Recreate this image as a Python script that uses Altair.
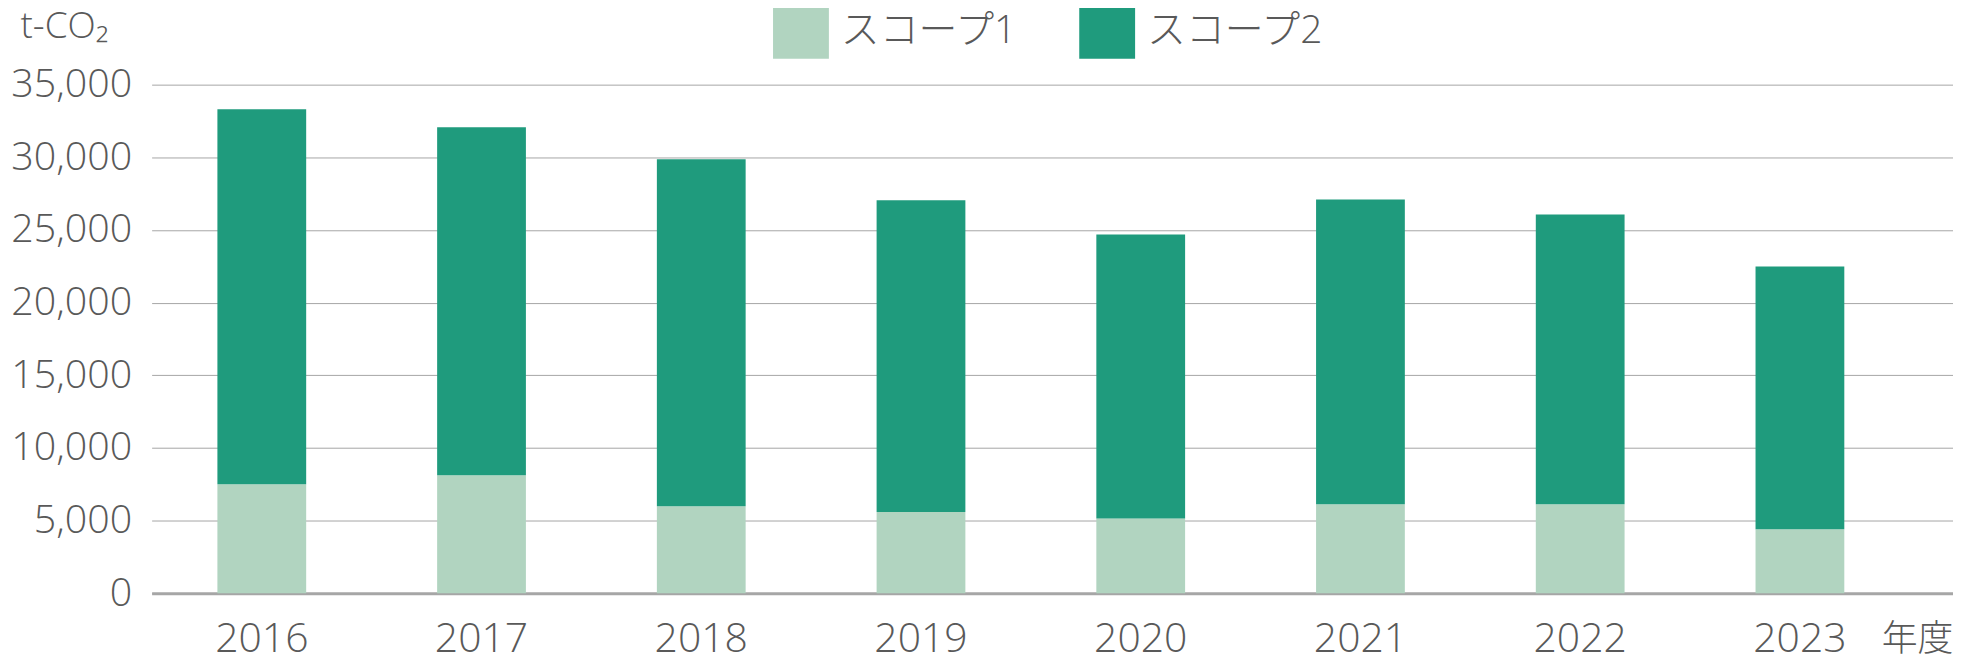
import altair as alt
import pandas as pd

years = ["2016", "2017", "2018", "2019", "2020", "2021", "2022", "2023"]
scope1 = [7500, 8130, 6000, 5600, 5150, 6130, 6130, 4410]
scope2 = [25800, 23940, 23870, 21450, 19540, 20970, 19930, 18080]
series = ["スコープ1", "スコープ2"]
colors = ["#b1d4c0", "#1f9b7d"]
y_ticks = [0, 5000, 10000, 15000, 20000, 25000, 30000, 35000]

rows = []
for i, yr in enumerate(years):
    rows.append({"year": yr, "series": series[0], "value": scope1[i], "order": 0})
    rows.append({"year": yr, "series": series[1], "value": scope2[i], "order": 1})
df = pd.DataFrame(rows)

FONT = "'Open Sans', 'Noto Sans CJK JP', sans-serif"
TXT = "#595959"

chart = alt.Chart(df).mark_bar().encode(
    x=alt.X(
        "year:N",
        sort=years,
        scale=alt.Scale(paddingInner=0.596, paddingOuter=0.397, align=0.377),
        axis=alt.Axis(
            title="年度",
            titleX=1806, titleY=46, titleAlign="right", titleBaseline="middle",
            titleFont=FONT, titleFontSize=36, titleFontWeight=300, titleColor=TXT,
            labelAngle=0, ticks=False, labelPadding=46, labelBaseline="middle",
            labelFont=FONT, labelFontSize=41, labelFontWeight=300, labelColor=TXT,
            domainColor="#a6a6a6", domainWidth=3, grid=False,
        ),
    ),
    y=alt.Y(
        "value:Q",
        stack="zero",
        scale=alt.Scale(domain=[0, 35000], nice=False),
        axis=alt.Axis(
            values=y_ticks, format=",d",
            title="t-CO₂",
            titleAngle=0, titleAlign="left", titleBaseline="alphabetic",
            titleX=-132, titleY=-47,
            titleFont=FONT, titleFontSize=37, titleFontWeight=300, titleColor=TXT,
            domain=False, ticks=False, labelPadding=20, labelLimit=400,
            labelFont=FONT, labelFontSize=39.5, labelFontWeight=300, labelColor=TXT,
            gridColor="#a6a6a6", gridWidth=1,
        ),
    ),
    color=alt.Color(
        "series:N",
        scale=alt.Scale(domain=series, range=colors),
        legend=alt.Legend(
            title=None, orient="none", legendX=623, legendY=-82,
            direction="horizontal", symbolType="square", symbolSize=3136,
            symbolStrokeWidth=0, symbolOpacity=1, labelOffset=12, columnPadding=60,
            labelLimit=0,
            labelFont=FONT, labelFontSize=39, labelFontWeight=300, labelColor=TXT,
            padding=0,
        ),
    ),
    order=alt.Order("order:Q", sort="ascending"),
).properties(
    width=1806,
    height=510,
    padding={"left": 144, "top": 76, "right": 0, "bottom": 74},
    autosize=alt.AutoSizeParams(type="none"),
).configure_view(stroke=None)

chart.save("out.html", embed_options={"renderer": "svg", "actions": False})
